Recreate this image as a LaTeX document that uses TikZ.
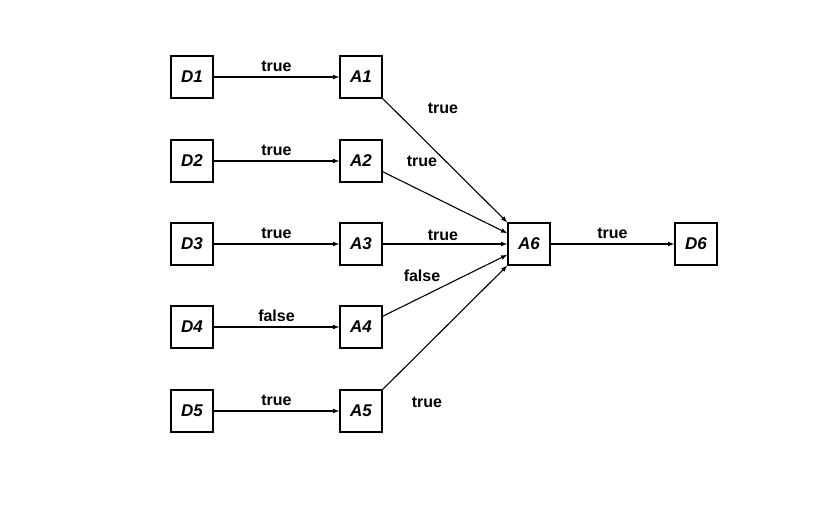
\documentclass[tikz,border=0pt]{standalone}
\usepackage{fontspec}
\setmainfont{Liberation Sans}
\begin{document}
\begin{tikzpicture}[x=1pt,y=-1pt,
  box/.style={draw,line width=1.6pt,minimum size=42pt,inner sep=0pt,font=\fontsize{17}{17}\selectfont\bfseries\itshape},
  lab/.style={font=\fontsize{16}{16}\selectfont\bfseries},
  arr/.style={-latex,line width=1.1pt}]
\useasboundingbox (0,0) rectangle (829,526);
\foreach \i/\y in {1/77,2/161,3/244,4/327,5/411}{
  \node[box] (D\i) at (192,\y) {D\i};
  \node[box] (A\i) at (361,\y) {A\i};
}
\node[box] (A6) at (529,244) {A6};
\node[box] (D6) at (696,244) {D6};
\foreach \i/\t in {1/true,2/true,3/true,4/false,5/true}{
  \draw[arr] (D\i) -- node[lab,above=1pt]{\t} (A\i);
}
\draw[arr] (A1) -- (A6);
\draw[arr] (A2) -- (A6);
\draw[arr] (A3) -- (A6);
\draw[arr] (A4) -- (A6);
\draw[arr] (A5) -- (A6);
\draw[arr] (A6) -- node[lab,above=1pt]{true} (D6);
\node[lab] (l1) at (443,108) {true};
\node[lab] (l2) at (422,161) {true};
\node[lab] (l3) at (443,235) {true};
\node[lab] (l4) at (422,276) {false};
\node[lab] (l5) at (427,402) {true};
\end{tikzpicture}
\end{document}
